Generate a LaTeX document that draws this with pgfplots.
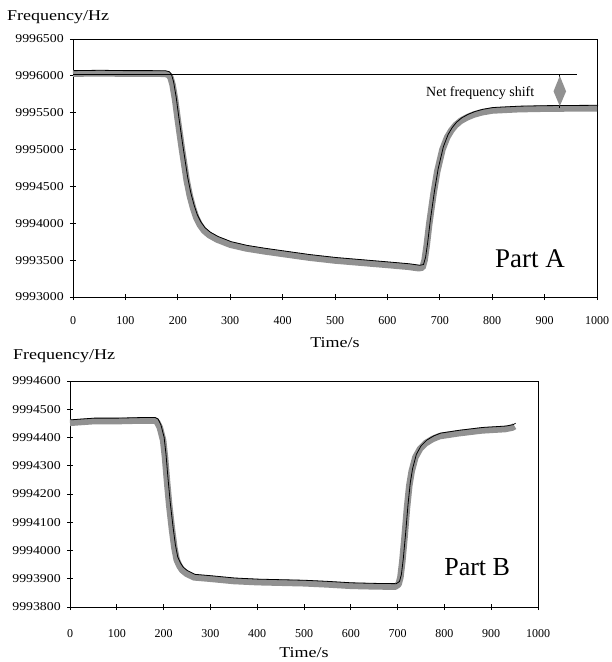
\documentclass[border=0pt]{standalone}
\usepackage{fontspec}
\setmainfont{Liberation Serif}
\usepackage{pgfplots}
\pgfplotsset{compat=1.18}
\definecolor{trace}{RGB}{145,145,145}
% Frequencies are stored as (value - 9990000) Hz to keep full precision.
\begin{document}
\begin{tikzpicture}
\path[use as bounding box] (0,0) rectangle (612bp,-662bp);
\pgfplotsset{
  every axis/.append style={
    scale only axis, anchor=south west,
    axis line style={black, line width=1bp},
    xmin=0, xmax=1000, xtick={0,100,...,1000},
    xtick pos=lower, ytick pos=left,
    major tick length=6bp, tick align=center,
    every tick/.style={black, line width=0.9bp},
    tick label style={font=\fontsize{12bp}{14bp}\selectfont},
    xticklabel style={yshift=-13bp},
    yticklabel style={xscale=1.15, anchor=east, xshift=-2bp},
    /pgf/number format/assume math mode=true,
    /pgf/number format/1000 sep={},
    clip=false,
  }
}
% ---------------- Part A ----------------
\begin{axis}[at={(73bp,-297bp)}, width=524bp, height=258bp,
  ymin=3000, ymax=6500, ytick={3000,3500,...,6500},
  yticklabels={9993000,9993500,9994000,9994500,9995000,9995500,9996000,9996500}]
\addplot[trace, line width=6.5bp, line join=round] coordinates {
(0,6030) (50,6035) (100,6030) (150,6030) (175,6028) (182,6015) (186,5980)
(190,5880) (195,5670) (200,5400) (208,5000) (217,4580) (223,4370) (229,4210)
(235,4080) (242,3980) (250,3900) (260,3840) (275,3780) (300,3710) (330,3660)
(365,3620) (400,3585) (450,3535) (500,3495)
(550,3465) (600,3435) (640,3410) (660,3390) (667,3400) (671,3500) (675,3700)
(680,4000) (688,4400) (695,4700) (705,5000) (714,5165) (722,5260) (730,5330)
(740,5390) (752,5437) (765,5475) (780,5505) (800,5530) (850,5548) (900,5555)
(950,5558) (1000,5560)};
\addplot[black, line width=0.8bp, yshift=3bp, xshift=1bp] coordinates {
(0,6030) (50,6035) (100,6030) (150,6030) (175,6028) (182,6015) (186,5980)
(190,5880) (195,5670) (200,5400) (208,5000) (217,4580) (223,4370) (229,4210)
(235,4080) (242,3980) (250,3900) (260,3840) (275,3780) (300,3710) (330,3660)
(365,3620) (400,3585) (450,3535) (500,3495)
(550,3465) (600,3435) (640,3410) (660,3390) (667,3400) (671,3500) (675,3700)
(680,4000) (688,4400) (695,4700) (705,5000) (714,5165) (722,5260) (730,5330)
(740,5390) (752,5437) (765,5475) (780,5505) (800,5530) (850,5548) (900,5555)
(950,5558) (1000,5560)};
\addplot[black, line width=0.8bp] coordinates {(0,6015) (962,6015)};
\draw[black, line width=0.8bp] (axis cs:929,6015) -- (axis cs:929,5560);
\fill[trace] (axis cs:929,6000) -- (axis cs:941,5790) -- (axis cs:929,5590) -- (axis cs:917,5790) -- cycle;
\node[font=\fontsize{14bp}{16bp}\selectfont, anchor=east] at (axis cs:887,5764) {Net frequency shift};
\node[font=\fontsize{27bp}{30bp}\selectfont] at (axis cs:872,3515) {Part A};
\end{axis}
% ---------------- Part B ----------------
\begin{axis}[at={(70bp,-607bp)}, width=468bp, height=226bp,
  ymin=3800, ymax=4600, ytick={3800,3900,...,4600},
  yticklabels={9993800,9993900,9994000,9994100,9994200,9994300,9994400,9994500,9994600},
  xticklabel style={yshift=-3bp}]
\addplot[trace, line width=6.5bp, line join=round] coordinates {
(0,4452) (50,4458) (100,4458) (150,4460) (180,4460) (186,4455) (192,4435)
(199,4390) (203,4330) (207,4250) (212,4160) (218,4073) (223,4010) (228,3967)
(234,3945) (240,3930) (249,3918) (265,3905)
(300,3900) (350,3892) (400,3888) (450,3886) (500,3884) (550,3880) (600,3875)
(650,3873) (695,3872) (702,3880) (706,3905) (710,3960) (715,4050) (720,4150)
(725,4230) (730,4280) (738,4330) (748,4360) (760,4380) (775,4395) (790,4405)
(830,4415) (880,4425) (930,4430) (945,4435) (950,4440)};
\addplot[black, line width=0.8bp, yshift=3bp, xshift=1bp] coordinates {
(0,4452) (50,4458) (100,4458) (150,4460) (180,4460) (186,4455) (192,4435)
(199,4390) (203,4330) (207,4250) (212,4160) (218,4073) (223,4010) (228,3967)
(234,3945) (240,3930) (249,3918) (265,3905)
(300,3900) (350,3892) (400,3888) (450,3886) (500,3884) (550,3880) (600,3875)
(650,3873) (695,3872) (702,3880) (706,3905) (710,3960) (715,4050) (720,4150)
(725,4230) (730,4280) (738,4330) (748,4360) (760,4380) (775,4395) (790,4405)
(830,4415) (880,4425) (930,4430) (945,4435) (950,4440)};
\node[font=\fontsize{26bp}{29bp}\selectfont] at (axis cs:870,3942) {Part B};
\end{axis}
% ---------------- titles ----------------
\node[anchor=west, font=\fontsize{15bp}{17bp}\selectfont, xscale=1.2, inner sep=0pt] at (7bp,-17bp) {Frequency/Hz};
\node[font=\fontsize{15bp}{17bp}\selectfont, xscale=1.2, inner sep=0pt] at (335bp,-343bp) {Time/s};
\node[anchor=west, font=\fontsize{15bp}{17bp}\selectfont, xscale=1.2, inner sep=0pt] at (13bp,-356bp) {Frequency/Hz};
\node[font=\fontsize{15bp}{17bp}\selectfont, xscale=1.2, inner sep=0pt] at (304bp,-653bp) {Time/s};
\end{tikzpicture}
\end{document}
